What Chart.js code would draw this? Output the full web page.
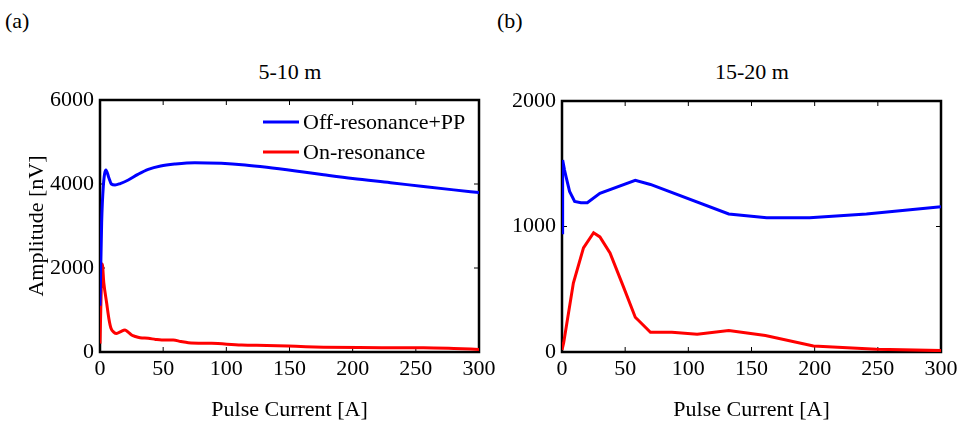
<!DOCTYPE html>
<html>
<head>
<meta charset="utf-8">
<script src="https://cdn.jsdelivr.net/npm/chart.js@4.4.0/dist/chart.umd.min.js"></script>
<style>
body{margin:0;background:#fff;width:966px;height:429px;overflow:hidden;position:relative;font-family:"Liberation Serif","DejaVu Serif",serif;}
canvas{position:absolute;top:0;}
.lbl{position:absolute;font-size:22px;line-height:25px;color:#000;white-space:nowrap;font-family:"Liberation Serif","DejaVu Serif",serif;}
.ctr{transform:translateX(-50%);}
</style>
</head>
<body>
<div class="lbl" style="left:5px;top:8px">(a)</div>
<div class="lbl" style="left:497px;top:8px">(b)</div>
<div class="lbl ctr" style="left:290px;top:59px">5-10 m</div>
<div class="lbl ctr" style="left:752px;top:59px">15-20 m</div>
<canvas id="chartA" width="500" height="429" style="left:0"></canvas>
<canvas id="chartB" width="486" height="429" style="left:480px"></canvas>
<script>
// panel (a) 5-10 m
const aOffX=[0,1.3,2.6,4.7,7,9,11.9,16,22.4,30,38.2,48,59.4,75,96,114.8,132,155,177,200,230,256,280,300];
const aOffY=[1100,3070,3936,4333,4150,4000,3976,4010,4095,4230,4350,4430,4476,4508,4492,4452,4397,4310,4220,4130,4030,3940,3860,3795];
const aOnX=[0,1,1.8,3,5.3,7,8.7,11,13.2,16,19.8,22,25,28,31.7,38.2,44,48.8,58,64,69.9,88.4,112,132,155,177,205,230,256,280,300];
const aOnY=[200,1500,2095,1650,1160,800,564,470,443,480,524,480,405,370,341,326,300,286,286,250,222,206,167,155,135,115,105,103,103,85,60];
// panel (b) 15-20 m
const bOffX=[0,0.5,2,3.7,6,10,15,20,30,58,70,132,162,196,241,300];
const bOffY=[950,1530,1450,1376,1280,1200,1190,1190,1265,1368,1335,1100,1070,1070,1100,1157];
const bOnX=[0,1.3,9,17,25,30,38,48.5,58,70,87,107,132,161,199,249,300];
const bOnY=[16,72,550,830,950,917,790,523,277,157,157,141,171,131,48,21,11];

const seriesNames=['Off-resonance+PP','On-resonance'];
const seriesColors=['#0000ff','#ff0000'];
const xTitle='Pulse Current [A]';
const yTitle='Amplitude [nV]';

const serif="'Liberation Serif','DejaVu Serif',serif";
Chart.defaults.font.family=serif;
Chart.defaults.font.size=22;
Chart.defaults.color='#000';

const pts=(xs,ys)=>xs.map((x,i)=>({x:x,y:ys[i]}));

// box with inward ticks, drawn under the lines
const framePlugin={
  id:'frame',
  beforeDatasetsDraw(chart){
    const {ctx,chartArea:a,scales:{x,y}}=chart;
    ctx.save();
    ctx.strokeStyle='#000';
    ctx.lineWidth=1;
    ctx.beginPath();
    x.ticks.forEach(t=>{
      const px=x.getPixelForValue(t.value);
      ctx.moveTo(px,a.bottom);ctx.lineTo(px,a.bottom-5);
      ctx.moveTo(px,a.top);ctx.lineTo(px,a.top+5);
    });
    y.ticks.forEach(t=>{
      const py=y.getPixelForValue(t.value);
      ctx.moveTo(a.left,py);ctx.lineTo(a.left+5,py);
      ctx.moveTo(a.right,py);ctx.lineTo(a.right-5,py);
    });
    ctx.stroke();
    ctx.lineWidth=2.5;
    ctx.strokeRect(a.left,a.top,a.width,a.height);
    ctx.restore();
  }
};

const legendPlugin={
  id:'innerLegend',
  afterDatasetsDraw(chart){
    const {ctx,chartArea:a}=chart;
    ctx.save();
    chart.data.datasets.forEach((ds,i)=>{
      const yy=a.top+22+i*30;
      ctx.strokeStyle=ds.borderColor;
      ctx.lineWidth=3;
      ctx.beginPath();
      ctx.moveTo(a.right-216,yy);ctx.lineTo(a.right-180,yy);
      ctx.stroke();
      ctx.fillStyle='#000';
      ctx.font="22px "+serif;
      ctx.textBaseline='middle';
      ctx.fillText(ds.label,a.right-176,yy+1);
    });
    ctx.restore();
  }
};

function makeChart(id,sets,yMax,yStep,yWidth,pad,showYTitle,mode,extra){
  return new Chart(document.getElementById(id),{
    type:'line',
    data:{datasets:sets.map((d,i)=>({
      label:seriesNames[i],data:d,borderColor:seriesColors[i],borderWidth:3,
      pointRadius:0,fill:false,cubicInterpolationMode:mode,tension:0
    }))},
    options:{
      responsive:false,animation:false,devicePixelRatio:1,
      layout:{padding:pad},
      plugins:{legend:{display:false},tooltip:{enabled:false}},
      scales:{
        x:{type:'linear',min:0,max:300,
          ticks:{stepSize:50,padding:4,maxRotation:0,autoSkip:false,callback:v=>String(v)},
          grid:{display:false,drawTicks:false},border:{display:false},
          title:{display:true,text:xTitle,padding:{top:0,bottom:6}},
          afterFit:s=>{s.height=77;}},
        y:{min:0,max:yMax,
          ticks:{stepSize:yStep,padding:6,autoSkip:false,callback:v=>String(v)},
          grid:{display:false,drawTicks:false},border:{display:false},
          title:{display:showYTitle,text:yTitle,padding:{top:24,bottom:0}},
          afterFit:s=>{s.width=yWidth;}}
      }
    },
    plugins:[framePlugin].concat(extra)
  });
}

makeChart('chartA',[pts(aOffX,aOffY),pts(aOnX,aOnY)],6000,2000,100,
  {left:0,top:100,right:21,bottom:0},true,'monotone',[legendPlugin]);
makeChart('chartB',[pts(bOffX,bOffY),pts(bOnX,bOnY)],2000,1000,82,
  {left:0,top:101,right:25,bottom:0},false,'default',[]);
</script>
</body>
</html>
